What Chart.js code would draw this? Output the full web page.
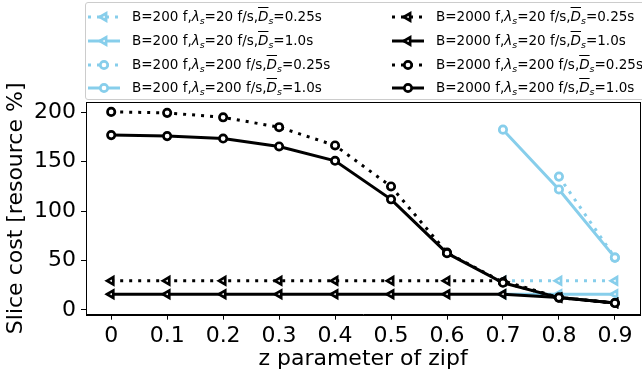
<!DOCTYPE html>
<html>
<head>
<meta charset="utf-8">
<script src="https://cdn.jsdelivr.net/npm/chart.js@4/dist/chart.umd.min.js"></script>
<style>
  html, body { margin:0; padding:0; overflow:hidden; background:#fff; width:642px; height:377px; }
  #wrap { position:absolute; left:0; top:0; width:647px; height:377px; }
  #legend { position:absolute; left:85px; top:2px; width:600px; height:96px; border:1px solid #cccccc; border-radius:3px; background:rgba(255,255,255,0.8); font-family:"DejaVu Sans"; font-size:13.5px; color:#000; }
  .entry { position:absolute; white-space:nowrap; height:16px; line-height:16px; }
  .entry svg { position:absolute; left:0; top:-0px; }
  .entry .txt { position:absolute; white-space:nowrap; }
  .ov { text-decoration: overline; }
  sub { font-size:70%; vertical-align:-0.3em; line-height:0; }
</style>
</head>
<body>
<div id="wrap"><canvas id="c" width="647" height="377"></canvas></div>
<div id="legend"></div>
<script>
// ---- data ----
const zValues = [0, 0.1, 0.2, 0.3, 0.4, 0.5, 0.6, 0.7, 0.8, 0.9];
const yTickValues = [0, 50, 100, 150, 200];

const b200_l20_d025  = [null, null, null, null, null, null, null, 29.5, 29.5, 29.5];
const b200_l20_d10   = [null, null, null, null, null, null, null, 16, 16, 16];
const b200_l200_d025 = [null, null, null, null, null, null, null, null, 135, 53];
const b200_l200_d10  = [null, null, null, null, null, null, null, 182.5, 122, 53];
const b2000_l20_d025  = [29.5, 29.5, 29.5, 29.5, 29.5, 29.5, 29.5, 29.5, 12.5, 7];
const b2000_l20_d10   = [16, 16, 16, 16, 16, 16, 16, 16, 12.5, 7];
const b2000_l200_d025 = [200.5, 199.5, 195, 185, 166.5, 125, 58, 28, 12.5, 7];
const b2000_l200_d10  = [177, 176, 173.5, 165.5, 151, 112, 57.5, 27.5, 12.5, 7];

const seriesLabels = [
  'B=200 f,<i>λ</i><sub><i>s</i></sub>=20 f/s,<span class="ov"><i>D</i></span><sub><i>s</i></sub>=0.25s',
  'B=200 f,<i>λ</i><sub><i>s</i></sub>=20 f/s,<span class="ov"><i>D</i></span><sub><i>s</i></sub>=1.0s',
  'B=200 f,<i>λ</i><sub><i>s</i></sub>=200 f/s,<span class="ov"><i>D</i></span><sub><i>s</i></sub>=0.25s',
  'B=200 f,<i>λ</i><sub><i>s</i></sub>=200 f/s,<span class="ov"><i>D</i></span><sub><i>s</i></sub>=1.0s',
  'B=2000 f,<i>λ</i><sub><i>s</i></sub>=20 f/s,<span class="ov"><i>D</i></span><sub><i>s</i></sub>=0.25s',
  'B=2000 f,<i>λ</i><sub><i>s</i></sub>=20 f/s,<span class="ov"><i>D</i></span><sub><i>s</i></sub>=1.0s',
  'B=2000 f,<i>λ</i><sub><i>s</i></sub>=200 f/s,<span class="ov"><i>D</i></span><sub><i>s</i></sub>=0.25s',
  'B=2000 f,<i>λ</i><sub><i>s</i></sub>=200 f/s,<span class="ov"><i>D</i></span><sub><i>s</i></sub>=1.0s'
];
const xTitle = 'z parameter of zipf';
const yTitle = 'Slice cost [resource %]';

// ---- styles ----
const SKY = '#87ceeb', BLK = '#000000';
const DOT = [3, 6];
const styles = [
  {data: b200_l20_d025,  color: SKY, dash: DOT, marker: 'triangle'},
  {data: b200_l20_d10,   color: SKY, dash: [],  marker: 'triangle'},
  {data: b200_l200_d025, color: SKY, dash: DOT, marker: 'circle'},
  {data: b200_l200_d10,  color: SKY, dash: [],  marker: 'circle'},
  {data: b2000_l20_d025, color: BLK, dash: DOT, marker: 'triangle'},
  {data: b2000_l20_d10,  color: BLK, dash: [],  marker: 'triangle'},
  {data: b2000_l200_d025,color: BLK, dash: DOT, marker: 'circle'},
  {data: b2000_l200_d10, color: BLK, dash: [],  marker: 'circle'}
];

const datasets = styles.map((s, i) => ({
  label: 'series' + i,
  data: zValues.map((z, k) => ({x: z, y: s.data[k]})),
  borderColor: s.color,
  backgroundColor: '#ffffff',
  borderWidth: 3,
  borderDash: s.dash,
  borderCapStyle: 'butt',
  pointStyle: s.marker,
  pointRotation: s.marker === 'triangle' ? -90 : 0,
  pointRadius: s.marker === 'triangle' ? 4.2 : 3.7,
  pointBorderWidth: 2.7,
  pointBorderColor: s.color,
  pointBackgroundColor: '#ffffff',
  spanGaps: false,
  tension: 0,
  order: styles.length - i
}));

const spinePlugin = {
  id: 'spines',
  afterDatasetsDraw(chart) {
    const a = chart.chartArea, ctx = chart.ctx;
    ctx.save();
    ctx.strokeStyle = '#000';
    ctx.lineWidth = 1;
    ctx.strokeRect(Math.round(a.left) + 0.5, Math.round(a.top) + 0.5, Math.round(a.right - a.left), Math.round(a.bottom - a.top));
    ctx.restore();
  }
};

const FONT = {family: 'DejaVu Sans', size: 22};

new Chart(document.getElementById('c'), {
  type: 'line',
  data: {datasets},
  options: {
    responsive: false,
    devicePixelRatio: 1,
    animation: false,
    layout: {padding: {top: 102, left: 0, right: 0, bottom: 0}},
    plugins: {legend: {display: false}, tooltip: {enabled: false}},
    scales: {
      x: {
        type: 'linear',
        min: -0.045, max: 0.945,
        afterBuildTicks: ax => { ax.ticks = zValues.map(v => ({value: v})); },
        afterFit: ax => { ax.height = 62.3; },
        ticks: {color: '#000', font: FONT, padding: 3, maxRotation: 0, autoSkip: false,
                callback: v => String(Math.round(v * 10) / 10)},
        grid: {display: true, drawOnChartArea: false, drawTicks: true, tickLength: 5, color: '#000', lineWidth: 1},
        border: {display: true, color: '#000', width: 1},
        title: {display: true, text: xTitle, color: '#000', font: FONT, padding: {top: 0, bottom: 5}}
      },
      y: {
        type: 'linear',
        min: -4.8, max: 210.5,
        afterBuildTicks: ax => { ax.ticks = yTickValues.map(v => ({value: v})); },
        afterFit: ax => { ax.width = 86; },
        ticks: {color: '#000', font: FONT, padding: 5},
        grid: {display: true, drawOnChartArea: false, drawTicks: true, tickLength: 5, color: '#000', lineWidth: 1},
        border: {display: true, color: '#000', width: 1},
        title: {display: true, text: yTitle, color: '#000', font: FONT, padding: {top: 3, bottom: 0}}
      }
    }
  },
  plugins: [spinePlugin]
});

// ---- HTML legend ----
const legend = document.getElementById('legend');
const rowY = [14, 38, 61.5, 85];
const colX = [1, 305];
function handleSvg(s) {
  const w = 32, h = 16, cy = 8, cx = 16;
  let line = `<line x1="0" y1="${cy}" x2="${w}" y2="${cy}" stroke="${s.color}" stroke-width="3" ${s.dash.length ? `stroke-dasharray="${s.dash.join(' ')}"` : ''}/>`;
  let mk;
  if (s.marker === 'circle') {
    mk = `<circle cx="${cx}" cy="${cy}" r="3.7" fill="#fff" stroke="${s.color}" stroke-width="2.7"/>`;
  } else {
    const r = 4.2;
    const p = [[cx - r, cy], [cx + r / 2, cy - r * 0.866], [cx + r / 2, cy + r * 0.866]];
    mk = `<polygon points="${p.map(q => q.join(',')).join(' ')}" fill="#fff" stroke="${s.color}" stroke-width="2.7" stroke-linejoin="miter"/>`;
  }
  return `<svg width="${w}" height="${h}" viewBox="0 0 ${w} ${h}">${line}${mk}</svg>`;
}
styles.forEach((s, i) => {
  const col = i < 4 ? 0 : 1, row = i % 4;
  const e = document.createElement('div');
  e.className = 'entry';
  e.style.left = (colX[col] + 1) + 'px';
  e.style.top = (rowY[row] - 8) + 'px';
  e.innerHTML = handleSvg(s) + `<span class="txt" style="left:${44}px;top:-1px">${seriesLabels[i]}</span>`;
  legend.appendChild(e);
});
</script>
</body>
</html>
